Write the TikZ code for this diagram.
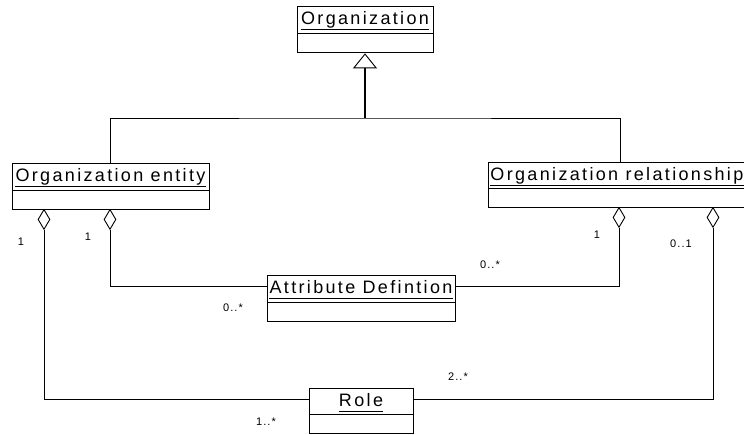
\documentclass[tikz,border=0pt]{standalone}
\usepackage{fontspec}
\setmainfont{Liberation Sans}
\newfontfamily\umlfont[LetterSpace=13]{Liberation Sans}
\newfontfamily\labfont[LetterSpace=10]{Liberation Sans}
\usetikzlibrary{shapes.geometric,arrows.meta}
\begin{document}
\begin{tikzpicture}[x=1pt,y=-1pt,
  line width=0.9pt,
  head/.style={draw, rectangle, inner sep=0pt, fill=white},
  body/.style={draw, rectangle, inner sep=0pt, fill=white, anchor=north},
  title/.style={inner sep=0pt, anchor=base, font=\umlfont\fontsize{18}{20}\selectfont},
  uline/.style={line width=0.8pt},
  agg/.style={draw, diamond, inner sep=0pt, minimum width=12pt, minimum height=20pt, fill=white, anchor=north},
  mult/.style={inner sep=0pt, font=\labfont\fontsize{11}{13}\selectfont},
  conn/.style={line width=0.9pt},
  gen/.style={line width=1.4pt, -{Triangle[open, length=15pt, width=24pt, line width=0.9pt]}}]
\useasboundingbox (0,0) rectangle (744,434);
\clip (0,0) rectangle (744,434);

% Organization
\node[head, minimum width=136pt, minimum height=27pt] (org) at (365,19.5) {};
\node[body, minimum width=136pt, minimum height=19pt] (orgb) at (org.south) {};
\node[title] (orgt) at (365,24) {Organization};
\draw[uline] ([yshift=-5pt]orgt.base west) -- ([yshift=-5pt]orgt.base east);

% Organization entity
\node[head, minimum width=197pt, minimum height=27pt] (ent) at (110.5,176.5) {};
\node[body, minimum width=197pt, minimum height=19pt] (entb) at (ent.south) {};
\node[title] (entt) at (110.5,181) {Organization entity};
\draw[uline] ([yshift=-5pt]entt.base west) -- ([yshift=-5pt]entt.base east);

% Organization relationship
\node[head, minimum width=264pt, minimum height=26pt] (rel) at (620,175) {};
\node[body, minimum width=264pt, minimum height=19pt] (relb) at (rel.south) {};
\node[title, anchor=base west] (relt) at (490,180) {Organization relationship};
\draw[uline] ([yshift=-5pt]relt.base west) -- ([yshift=-5pt]relt.base east);

% Attribute Defintion
\node[head, minimum width=188pt, minimum height=27pt] (attr) at (361,288.5) {};
\node[body, minimum width=188pt, minimum height=19pt] (attrb) at (attr.south) {};
\node[title] (attrt) at (361,293) {Attribute Defintion};
\draw[uline] ([yshift=-5pt]attrt.base west) -- ([yshift=-5pt]attrt.base east);

% Role
\node[head, minimum width=104pt, minimum height=26pt] (role) at (361,401) {};
\node[body, minimum width=104pt, minimum height=19pt] (roleb) at (role.south) {};
\node[title] (rolet) at (361,406) {Role};
\draw[uline] ([yshift=-5pt]rolet.base west) -- ([yshift=-5pt]rolet.base east);

% Generalization
\coordinate (j) at (365,118);
\draw[conn] (ent.north) |- (j) -| (rel.north);
\draw[gen] (j) -- (orgb.south);

% Aggregation ends
\node[agg] (d1) at (44,209) {};
\node[agg] (d2) at (110,209) {};
\node[agg] (d3) at (619,207) {};
\node[agg] (d4) at (713,207) {};

% Associations
\draw[conn] (d2.south) |- ([yshift=2.5pt]attr.west);
\draw[conn] (d3.south) |- ([yshift=2.5pt]attr.east);
\draw[conn] (d1.south) |- ([yshift=2pt]role.west);
\draw[conn] (d4.south) |- ([yshift=2pt]role.east);

% Multiplicities
\node[mult] (m1) at (21,242) {1};
\node[mult] (m2) at (88,237) {1};
\node[mult] (m3) at (233,308) {0..*};
\node[mult] (m4) at (490,265) {0..*};
\node[mult] (m5) at (597,235) {1};
\node[mult] (m6) at (681,244) {0..1};
\node[mult] (m7) at (458,377) {2..*};
\node[mult] (m8) at (266,422) {1..*};
\end{tikzpicture}
\end{document}
